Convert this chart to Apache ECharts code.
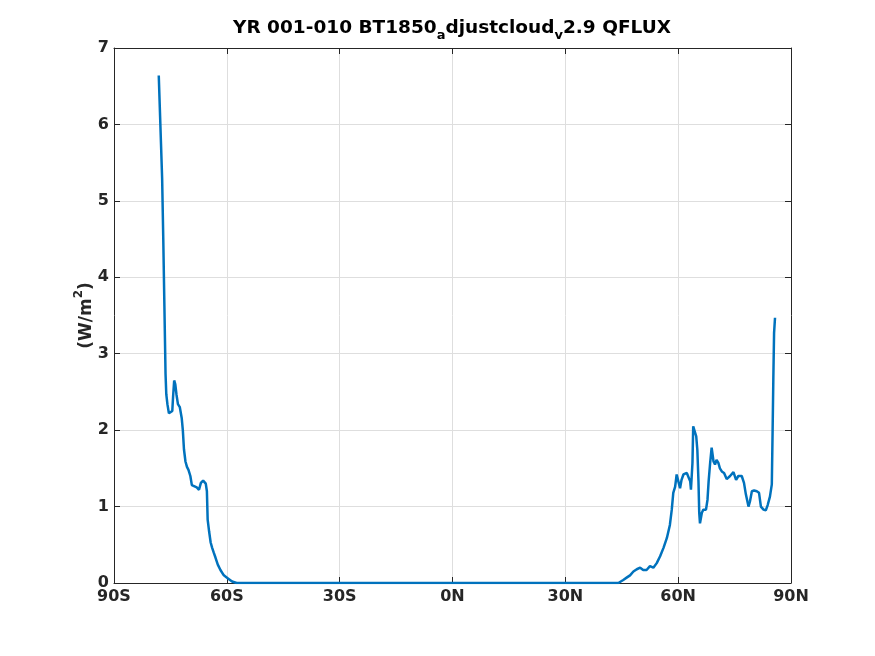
<!DOCTYPE html>
<html>
<head>
<meta charset="utf-8">
<script src="https://cdn.jsdelivr.net/npm/echarts@6/dist/echarts.min.js"></script>
<style>
html,body{margin:0;padding:0;background:#fff;}
#c{width:875px;height:656px;}
</style>
</head>
<body>
<div id="c"></div>
<script>
// Latitudes (degrees, negative = S) and QFLUX values (W/m^2)
const lats = [
  -78.1, -77.8, -77.5, -77.2, -76.9, -76.6, -76.3, -76.1, -75.8, -75.4, -74.9, -74.5,
  -74.3, -74.0, -73.7, -73.4, -73.0, -72.5, -72.0, -71.7, -71.4, -71.0, -70.6, -70.2,
  -69.7, -69.3, -68.8, -68.0, -67.4, -66.9, -66.3, -65.6, -65.3, -65.1, -64.7, -64.3,
  -63.9, -63.5, -63.0, -62.4, -61.7, -60.8, -59.7, -58.6, -57.4,
  44.1, 44.5, 45.4, 46.3, 47.2, 48.1, 49.0, 49.9, 50.7, 51.6, 52.5, 53.4, 54.3, 55.2,
  56.1, 57.0, 57.8, 58.3, 58.7, 59.2, 59.6, 60.1, 60.5, 60.9, 61.4, 61.8, 62.3, 62.7,
  63.2, 63.4, 63.8, 64.0, 64.4, 64.8, 65.1, 65.4, 65.6, 65.8, 66.3, 66.7, 67.4, 67.8,
  68.1, 68.5, 68.9, 69.4, 69.8, 70.2, 70.7, 71.1, 71.6, 72.2, 72.9, 73.8, 74.7, 75.4,
  76.0, 76.9, 77.5, 78.0, 78.7, 79.1, 79.6, 80.2, 80.9, 81.5, 82.0, 82.7, 83.3, 83.8,
  84.4, 84.9, 85.1, 85.3, 85.5, 85.75, 85.9
];
const qflux = [
  6.64, 6.19, 5.74, 5.29, 4.50, 3.62, 2.74, 2.47, 2.34, 2.22, 2.20, 2.25,
  2.43, 2.65, 2.60, 2.47, 2.34, 2.30, 2.16, 2.00, 1.75, 1.59, 1.52, 1.48,
  1.40, 1.28, 1.26, 1.25, 1.22, 1.31, 1.34, 1.30, 1.20, 0.83, 0.67, 0.53,
  0.46, 0.40, 0.33, 0.24, 0.17, 0.10, 0.06, 0.02, 0.00,
  0.00, 0.01, 0.04, 0.07, 0.10, 0.15, 0.18, 0.20, 0.17, 0.17, 0.22, 0.20, 0.26, 0.35,
  0.46, 0.59, 0.76, 0.96, 1.18, 1.26, 1.42, 1.40, 1.24, 1.35, 1.42, 1.40, 1.44, 1.44,
  1.33, 1.22, 1.57, 2.05, 2.07, 1.92, 1.74, 1.33, 0.92, 0.78, 0.92, 0.96, 0.96, 1.09,
  1.33, 1.57, 1.77, 1.59, 1.55, 1.61, 1.57, 1.50, 1.46, 1.44, 1.36, 1.40, 1.45, 1.35,
  1.40, 1.40, 1.31, 1.16, 1.00, 1.07, 1.20, 1.21, 1.20, 1.18, 1.00, 0.96, 0.95, 1.02,
  1.13, 1.29, 1.96, 2.66, 3.27, 3.47, 3.47
];
const xTickValues = [-90, -60, -30, 0, 30, 60, 90];
const xTickLabels = ['90S', '60S', '30S', '0N', '30N', '60N', '90N'];

const data = lats.map((l, i) => [l, qflux[i]]);
const ink = '#262626';
const font = 'DejaVu Sans';

const chart = echarts.init(document.getElementById('c'), null, {renderer: 'canvas'});
const xLabel = v => { const i = xTickValues.indexOf(v); return i >= 0 ? xTickLabels[i] : ''; };
chart.setOption({
  animation: false,
  backgroundColor: '#ffffff',
  title: {
    text: '{t|YR 001-010 BT1850}{s|a}{t|djustcloud}{s|v}{t|2.9 QFLUX}',
    left: 447, top: 14, textAlign: 'center',
    textStyle: {
      rich: {
        t: {fontFamily: font, fontWeight: 'bold', fontSize: 18.5, color: '#000', lineHeight: 23, verticalAlign: 'top'},
        s: {fontFamily: font, fontWeight: 'bold', fontSize: 13, color: '#000', lineHeight: 23, padding: [10, 0, 0, 0], verticalAlign: 'top'}
      }
    }
  },
  grid: {left: 114, right: 84, top: 48, bottom: 73, show: false},
  xAxis: [{
    type: 'value', min: -90, max: 90, interval: 30, position: 'bottom',
    axisLine: {show: true, onZero: false, lineStyle: {color: ink, width: 1}},
    axisTick: {show: true, inside: true, length: 6, lineStyle: {color: ink}},
    axisLabel: {formatter: xLabel, color: ink, fontFamily: font, fontWeight: 'bold', fontSize: 16, margin: 6},
    splitLine: {show: true, lineStyle: {color: '#dedede', width: 1}}
  }, {
    type: 'value', min: -90, max: 90, interval: 30, position: 'top',
    axisLine: {show: true, onZero: false, lineStyle: {color: ink, width: 1}},
    axisTick: {show: true, inside: true, length: 6, lineStyle: {color: ink}},
    axisLabel: {show: false}, splitLine: {show: false}
  }],
  yAxis: [{
    type: 'value', min: 0, max: 7, interval: 1, position: 'left',
    name: '{t|(W/m}{p|2}{t|)}', nameLocation: 'middle', nameGap: 19, nameRotate: 90,
    nameMoveOverlap: false,
    nameTextStyle: {
      rich: {
        t: {fontFamily: font, fontWeight: 'bold', fontSize: 17, color: ink, lineHeight: 22, verticalAlign: 'bottom'},
        p: {fontFamily: font, fontWeight: 'bold', fontSize: 12, color: ink, lineHeight: 22, padding: [0, 0, 10, 0], verticalAlign: 'bottom'}
      }
    },
    axisLine: {show: true, onZero: false, lineStyle: {color: ink, width: 1}},
    axisTick: {show: true, inside: true, length: 6, lineStyle: {color: ink}},
    axisLabel: {color: ink, fontFamily: font, fontWeight: 'bold', fontSize: 16, margin: 5},
    splitLine: {show: true, lineStyle: {color: '#dedede', width: 1}}
  }, {
    type: 'value', min: 0, max: 7, interval: 1, position: 'right',
    axisLine: {show: true, onZero: false, lineStyle: {color: ink, width: 1}},
    axisTick: {show: true, inside: true, length: 6, lineStyle: {color: ink}},
    axisLabel: {show: false}, splitLine: {show: false}
  }],
  series: [{
    type: 'line', xAxisIndex: 0, yAxisIndex: 0, data: data,
    showSymbol: false, smooth: false,
    lineStyle: {color: '#0072BD', width: 2.5},
    itemStyle: {color: '#0072BD'}
  }]
});
</script>
</body>
</html>
